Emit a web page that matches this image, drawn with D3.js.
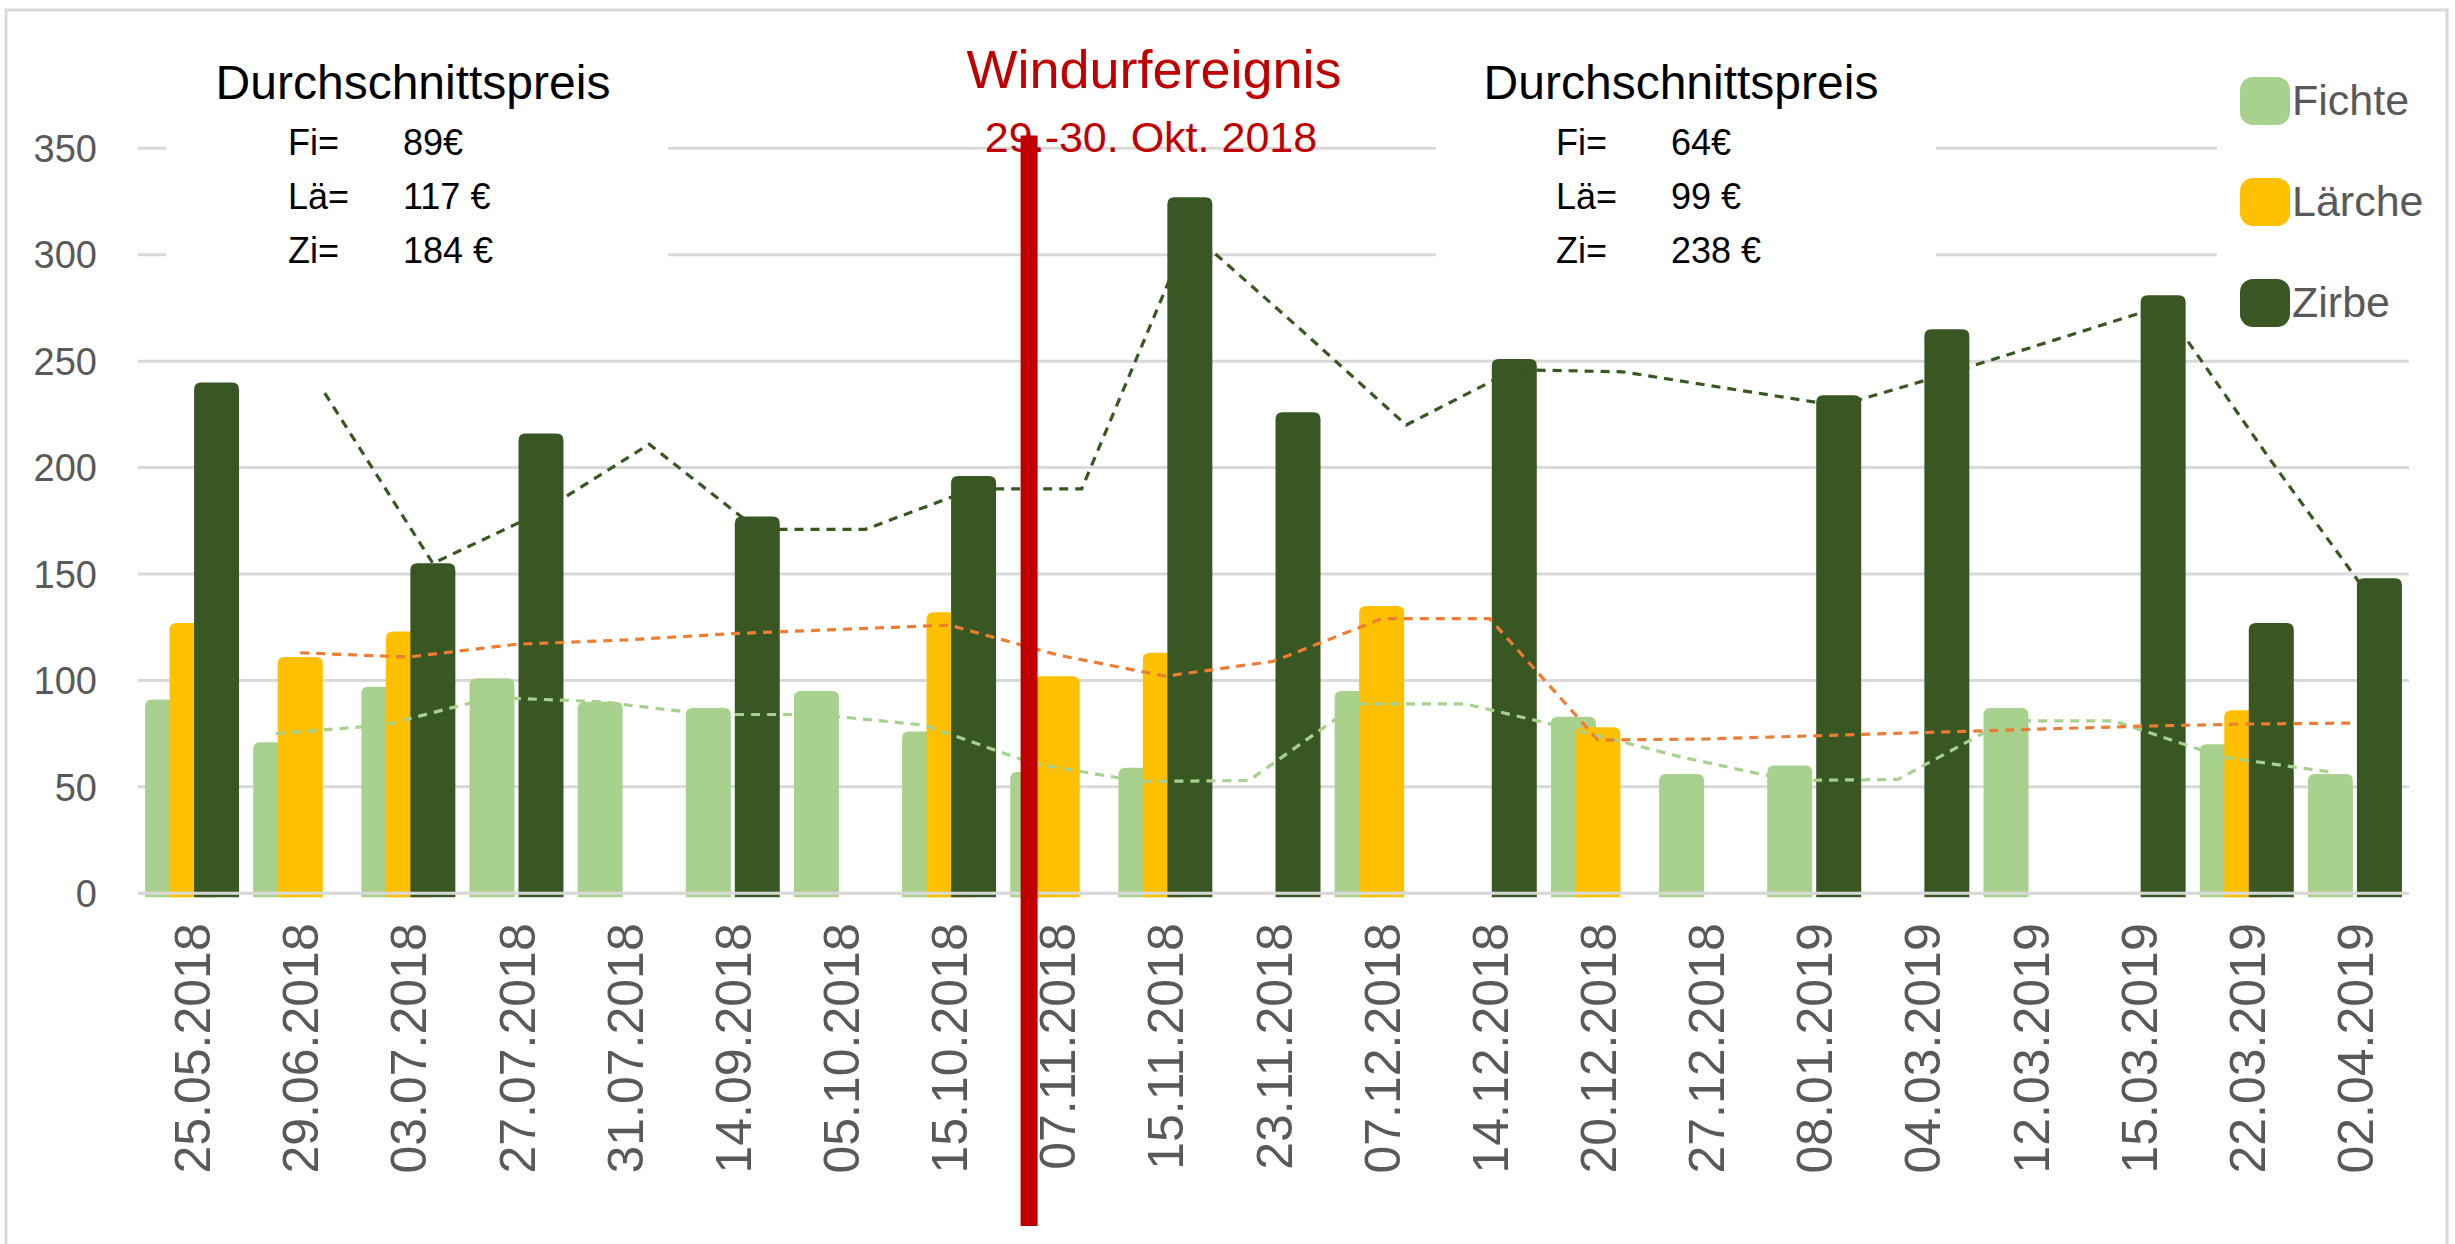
<!DOCTYPE html>
<html>
<head>
<meta charset="utf-8">
<script src="https://cdn.jsdelivr.net/npm/d3@7/dist/d3.min.js"></script>
<style>
  body { margin: 0; background: #fff; }
  svg { display: block; font-family: "Liberation Sans", Arial, sans-serif; }
</style>
</head>
<body>
<svg id="chart"></svg>
<script>
// Holzpreise je Termin (Euro), gelesen aus der Vorlage
const dates = [
  "25.05.2018", "29.06.2018", "03.07.2018", "27.07.2018", "31.07.2018",
  "14.09.2018", "05.10.2018", "15.10.2018", "07.11.2018", "15.11.2018",
  "23.11.2018", "07.12.2018", "14.12.2018", "20.12.2018", "27.12.2018",
  "08.01.2019", "04.03.2019", "12.03.2019", "15.03.2019", "22.03.2019",
  "02.04.2019"
];
const fichte = [91, 71, 97, 101, 90, 87, 95, 76, 57, 59, null, 95, null, 83, 56, 60, null, 87, null, 70, 56];
const laerche = [127, 111, 123, null, null, null, null, 132, 102, 113, null, 135, null, 78, null, null, null, null, null, 86, null];
const zirbe = [240, null, 155, 216, null, 177, null, 196, null, 327, 226, null, 251, null, null, 234, 265, null, 281, 127, 148];

// gleitende Durchschnitte (gestrichelte Trendlinien)
const fichteTrend = [null, 75, 79, 92, 90, 84, 84, 79, 61, 52.5, 53, 89, 89, 77, 64, 53, 53.5, 81, 81, 64, 57];
const laercheTrend = [null, 113, 111, 117, 119, 122, 124, 126, 112, 102, 109, 129, 129, 72, 72.5, 74, 75.5, 77, 78.5, 79.5, 80];
const zirbeTrend = [null, 235, 155, 179, 211, 171, 171, 190, 190, 311, 266, 220, 246, 245, 237, 229, 244, 260, 276, 203, 133];

const yTicks = [0, 50, 100, 150, 200, 250, 300, 350];

const seriesNames = ["Fichte", "Lärche", "Zirbe"];
const barColors = ["#A9D18E", "#FFC000", "#385723"];
const trendColors = ["#A9D18E", "#ED7D31", "#385723"];

const priceTitle = "Durchschnittspreis";
const pricesBefore = [["Fi=", "89€"], ["Lä=", "117 €"], ["Zi=", "184 €"]];
const pricesAfter = [["Fi=", "64€"], ["Lä=", "99 €"], ["Zi=", "238 €"]];

const eventTitle = "Windurfereignis";
const eventDate = "29.-30. Okt. 2018";
const eventAfter = "15.10.2018"; // Linie liegt zwischen diesem und dem nächsten Termin
const eventFraction = 0.74;
const eventTop = 356;

// layout
const width = 2455;
const height = 1244;
const plot = { left: 138, right: 2409, top: 148.3, bottom: 893.3 };
const barWidth = 45;
const seriesStep = 24.5;
const grey = "#595959";
const gridColor = "#D9D9D9";

const svg = d3.select("#chart").attr("width", width).attr("height", height);

const x = d3.scaleBand().domain(dates).range([plot.left, plot.right]).padding(0);
const y = d3.scaleLinear().domain([0, 350]).range([plot.bottom, plot.top]);
const center = (d) => x(d) + x.bandwidth() / 2;

// chart frame
svg.append("rect")
  .attr("x", 6).attr("y", 10)
  .attr("width", width - 14).attr("height", height + 40)
  .attr("fill", "#fff")
  .attr("stroke", gridColor)
  .attr("stroke-width", 3);

// gridlines
svg.append("g")
  .selectAll("line")
  .data(yTicks)
  .join("line")
  .attr("x1", plot.left)
  .attr("x2", plot.right)
  .attr("y1", (d) => y(d))
  .attr("y2", (d) => y(d))
  .attr("stroke", gridColor)
  .attr("stroke-width", 3);

// y labels
svg.append("g")
  .selectAll("text")
  .data(yTicks)
  .join("text")
  .attr("x", 97)
  .attr("y", (d) => y(d))
  .attr("dy", "0.36em")
  .attr("text-anchor", "end")
  .attr("font-size", 38)
  .attr("fill", grey)
  .text((d) => d);

// white text boxes hide the gridlines behind them
const boxes = [
  { x: 166, y: 20, w: 502, h: 300 },
  { x: 1436, y: 20, w: 500, h: 300 },
  { x: 2217, y: 40, w: 220, h: 305 }
];
svg.append("g")
  .selectAll("rect")
  .data(boxes)
  .join("rect")
  .attr("x", (d) => d.x).attr("y", (d) => d.y)
  .attr("width", (d) => d.w).attr("height", (d) => d.h)
  .attr("fill", "#fff");

// bars with rounded tops
function barPath(bx, by, w, h, r) {
  r = Math.min(r, h / 2, w / 2);
  return `M${bx},${by + h}V${by + r}Q${bx},${by} ${bx + r},${by}H${bx + w - r}Q${bx + w},${by} ${bx + w},${by + r}V${by + h}Z`;
}

const allSeries = [fichte, laerche, zirbe];
const allTrends = [fichteTrend, laercheTrend, zirbeTrend];

allSeries.forEach((values, s) => {
  const offset = (s - 1) * seriesStep;
  svg.append("g")
    .selectAll("path")
    .data(values.map((v, i) => ({ date: dates[i], v })).filter((d) => d.v != null))
    .join("path")
    .attr("d", (d) => {
      const bx = center(d.date) + offset - barWidth / 2;
      const top = y(d.v);
      return barPath(bx, top, barWidth, y(0) + 4 - top, 7);
    })
    .attr("fill", barColors[s]);
});

// baseline over the bars
svg.append("line")
  .attr("x1", plot.left).attr("x2", plot.right)
  .attr("y1", y(0)).attr("y2", y(0))
  .attr("stroke", gridColor).attr("stroke-width", 3);

// trend lines
allTrends.forEach((values, s) => {
  const offset = (s - 1) * seriesStep;
  const line = d3.line()
    .defined((d) => d.v != null)
    .x((d) => center(d.date) + offset)
    .y((d) => y(d.v));
  svg.append("path")
    .datum(values.map((v, i) => ({ date: dates[i], v })))
    .attr("d", line)
    .attr("fill", "none")
    .attr("stroke", trendColors[s])
    .attr("stroke-width", 3.2)
    .attr("stroke-dasharray", "9,7");
});

// x labels
svg.append("g")
  .selectAll("text")
  .data(dates)
  .join("text")
  .attr("transform", (d) => `translate(${center(d)},${y(0) + 30}) rotate(-90)`)
  .attr("dy", "0.36em")
  .attr("text-anchor", "end")
  .attr("font-size", 50)
  .attr("fill", grey)
  .text((d) => d);

// price boxes
function priceBox(cx, rows) {
  const g = svg.append("g");
  g.append("text")
    .attr("x", cx).attr("y", 99)
    .attr("text-anchor", "middle")
    .attr("font-size", 48)
    .attr("fill", "#000")
    .text(priceTitle);
  g.selectAll("text.row-label")
    .data(rows)
    .join("text")
    .attr("class", "row-label")
    .attr("x", cx - 125)
    .attr("y", (d, i) => 155 + i * 54)
    .attr("font-size", 36)
    .attr("fill", "#000")
    .text((d) => d[0]);
  g.selectAll("text.row-value")
    .data(rows)
    .join("text")
    .attr("class", "row-value")
    .attr("x", cx - 10)
    .attr("y", (d, i) => 155 + i * 54)
    .attr("font-size", 36)
    .attr("fill", "#000")
    .text((d) => d[1]);
}
priceBox(413, pricesBefore);
priceBox(1681, pricesAfter);

// wind event
const eventX = center(eventAfter) + eventFraction * x.step();
svg.append("line")
  .attr("x1", eventX).attr("x2", eventX)
  .attr("y1", y(eventTop)).attr("y2", height - 18)
  .attr("stroke", "#C00000")
  .attr("stroke-width", 17);

svg.append("text")
  .attr("x", 1154).attr("y", 88)
  .attr("text-anchor", "middle")
  .attr("font-size", 54)
  .attr("fill", "#C00000")
  .text(eventTitle);
svg.append("text")
  .attr("x", 1151).attr("y", 152)
  .attr("text-anchor", "middle")
  .attr("font-size", 43)
  .attr("fill", "#C00000")
  .text(eventDate);

// legend
const legend = svg.append("g")
  .selectAll("g")
  .data(seriesNames)
  .join("g")
  .attr("transform", (d, i) => `translate(2240,${101 + i * 101})`);
legend.append("rect")
  .attr("x", 0).attr("y", -24)
  .attr("width", 50).attr("height", 48)
  .attr("rx", 13)
  .attr("fill", (d, i) => barColors[i]);
legend.append("text")
  .attr("x", 52).attr("y", 14)
  .attr("font-size", 43)
  .attr("fill", grey)
  .text((d) => d);
</script>
</body>
</html>
